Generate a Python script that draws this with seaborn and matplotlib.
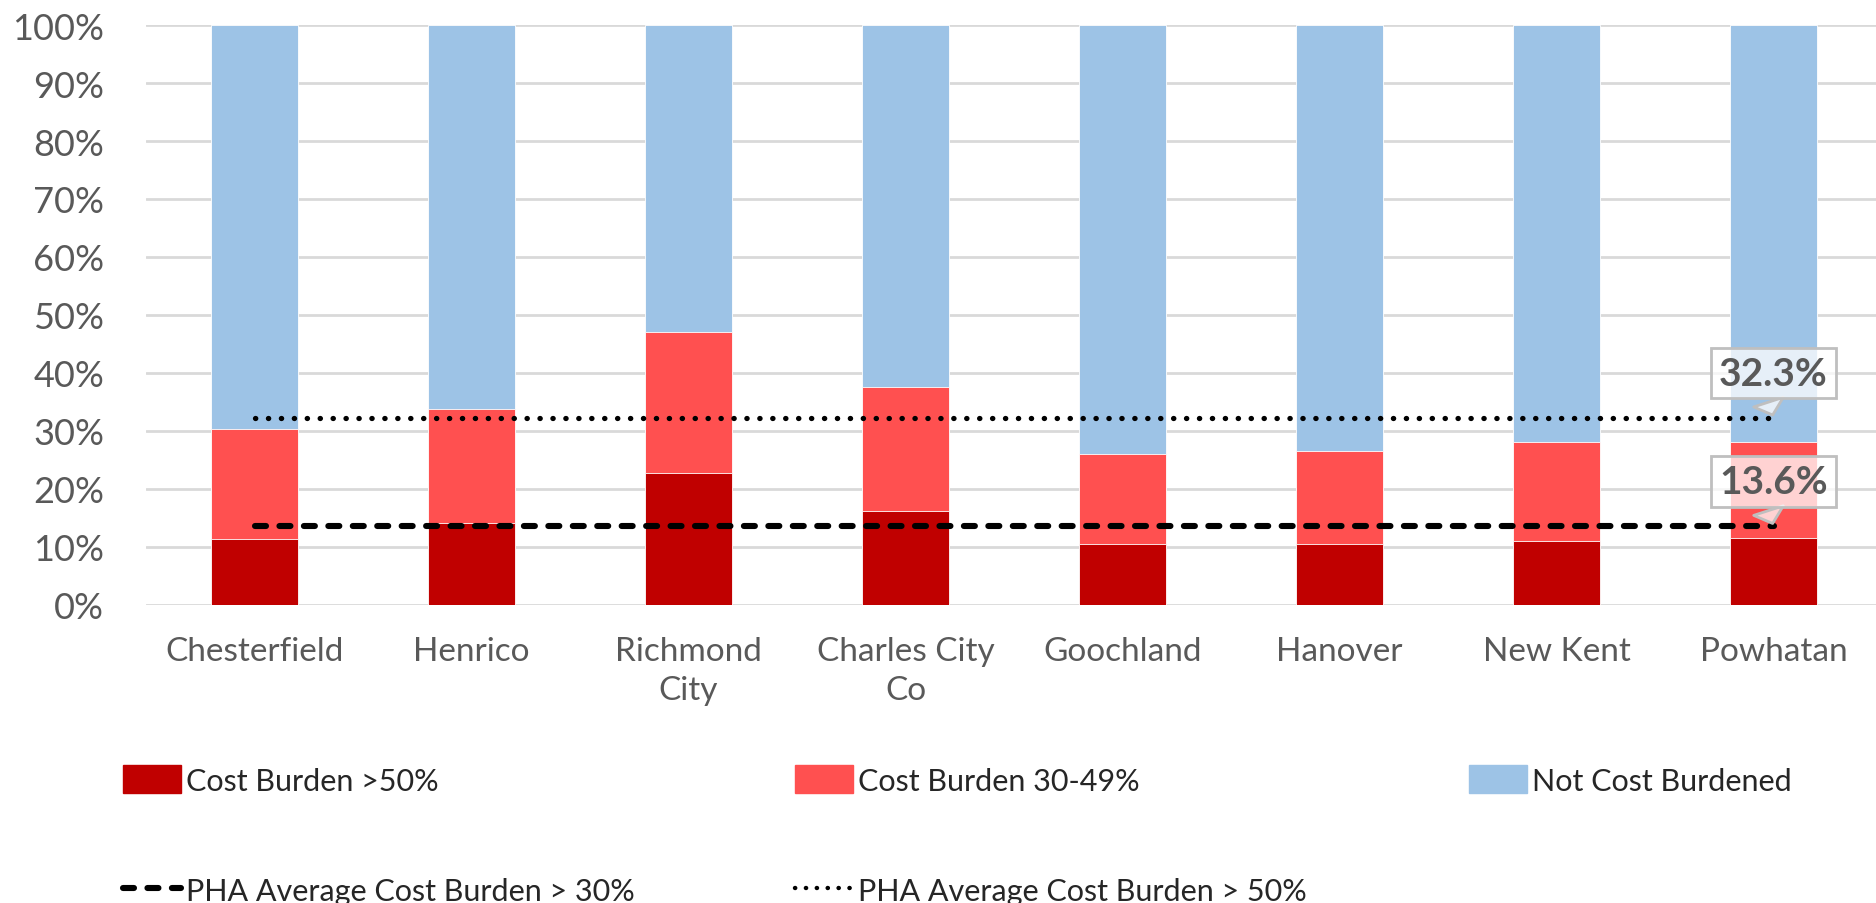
import matplotlib
matplotlib.use("Agg")
import matplotlib.pyplot as plt
from matplotlib.patches import Patch
from matplotlib.lines import Line2D
import seaborn as sns
import pandas as pd

# ---- data -------------------------------------------------------------
localities = ["Chesterfield", "Henrico", "Richmond\nCity", "Charles City\nCo",
              "Goochland", "Hanover", "New Kent", "Powhatan"]
burden_over_50 = [11.4, 14.1, 22.8, 16.2, 10.6, 10.6, 11.0, 11.5]
burden_30_49 = [19.0, 19.7, 24.2, 21.4, 15.5, 16.0, 17.1, 16.6]
not_burdened = [69.6, 66.2, 53.0, 62.4, 73.9, 73.4, 71.9, 71.9]
pha_avg_over_30 = 13.6
pha_avg_over_50 = 32.3
y_ticks = [0, 10, 20, 30, 40, 50, 60, 70, 80, 90, 100]

series_names = ["Cost Burden >50%", "Cost Burden 30-49%", "Not Cost Burdened"]
line_names = ["PHA Average Cost Burden > 30%", "PHA Average Cost Burden > 50%"]

# ---- style ------------------------------------------------------------
sns.set_theme(style="white")
plt.rcParams["font.family"] = ["Lato", "DejaVu Sans"]

DARK_RED = "#C00000"
RED = "#FF5050"
BLUE = "#9DC3E6"
GREY_TXT = "#595959"
GRID = "#D9D9D9"
DASHED = (0, (1.8, 2.2))
DOTTED = (0, (0.05, 2.4))

W, H = 1876, 904
fig = plt.figure(figsize=(W / 100, H / 100), dpi=100)
ax = fig.add_axes([146 / W, 1 - 606 / H, 1736 / W, 580 / H])

df = pd.DataFrame({
    "locality": localities,
    "over50": burden_over_50,
    "mid": burden_30_49,
    "none": not_burdened,
})
df["top_mid"] = df["over50"] + df["mid"]
df["top_all"] = df["top_mid"] + df["none"]

# stacked bars: draw cumulative totals from the tallest down
for col, color in [("top_all", BLUE), ("top_mid", RED), ("over50", DARK_RED)]:
    sns.barplot(data=df, x="locality", y=col, order=localities, color=color,
                width=0.4, saturation=1, edgecolor="white", linewidth=0.6,
                ax=ax, zorder=2)

# PHA average reference lines across the localities
line_df = pd.DataFrame({
    "locality": localities,
    "avg30": [pha_avg_over_30] * len(localities),
    "avg50": [pha_avg_over_50] * len(localities),
})
sns.lineplot(data=line_df, x="locality", y="avg30", color="black",
             linewidth=4.4, linestyle=DASHED, dash_capstyle="round",
             ax=ax, zorder=4)
sns.lineplot(data=line_df, x="locality", y="avg50", color="black",
             linewidth=3.8, linestyle=DOTTED, dash_capstyle="round",
             ax=ax, zorder=4)

ax.set_xlim(-0.5, len(localities) - 0.5)
ax.set_ylim(0, 100)
ax.set_yticks(y_ticks)
ax.set_yticklabels([f"{v}%" for v in y_ticks])
ax.set_xlabel("")
ax.set_ylabel("")
ax.yaxis.grid(True, color=GRID, linewidth=2)
ax.set_axisbelow(True)
for s in ax.spines.values():
    s.set_visible(False)
ax.tick_params(axis="y", length=0, pad=30, labelsize=26, labelcolor=GREY_TXT)
ax.tick_params(axis="x", length=0, pad=22, labelsize=24, labelcolor=GREY_TXT)
for lbl in ax.get_xticklabels():
    lbl.set_linespacing(1.4)

# callouts at the end of each average line
last = len(localities) - 1
for val in (pha_avg_over_50, pha_avg_over_30):
    ax.annotate(f"{val:.1f}%", xy=(last, val), xytext=(0, 32),
                textcoords="offset points", ha="center", va="center",
                fontsize=28, fontweight="bold", color=GREY_TXT,
                bbox=dict(boxstyle="square,pad=0.2", fc=(1, 1, 1, 0.75),
                          ec="#BFBFBF", lw=2),
                arrowprops=dict(arrowstyle="wedge,tail_width=0.8,shrink_factor=0.5",
                                fc=(1, 1, 1, 0.75), ec="#BFBFBF", lw=2,
                                relpos=(0.42, 0.0)),
                zorder=6)

# legend entries laid out below the chart
leg_kw = dict(loc="center left", frameon=False, fontsize=22, handlelength=1.9,
              handleheight=1.0, handletextpad=0.15, borderpad=0, borderaxespad=0)
patch_handles = [Patch(facecolor=c, edgecolor=c) for c in (DARK_RED, RED, BLUE)]
for h, name, x in zip(patch_handles, series_names, (123, 795, 1469)):
    fig.legend(handles=[h], labels=[name], bbox_to_anchor=(x / W, 1 - 781 / H), **leg_kw)
line_handles = [
    Line2D([], [], color="black", linewidth=4.4, linestyle=DASHED,
           dash_capstyle="round"),
    Line2D([], [], color="black", linewidth=3.2, linestyle=DOTTED,
           dash_capstyle="round"),
]
for h, name, x in zip(line_handles, line_names, (123, 795)):
    fig.legend(handles=[h], labels=[name], bbox_to_anchor=(x / W, 1 - 891 / H), **leg_kw)

fig.savefig("out.png", dpi=100)
